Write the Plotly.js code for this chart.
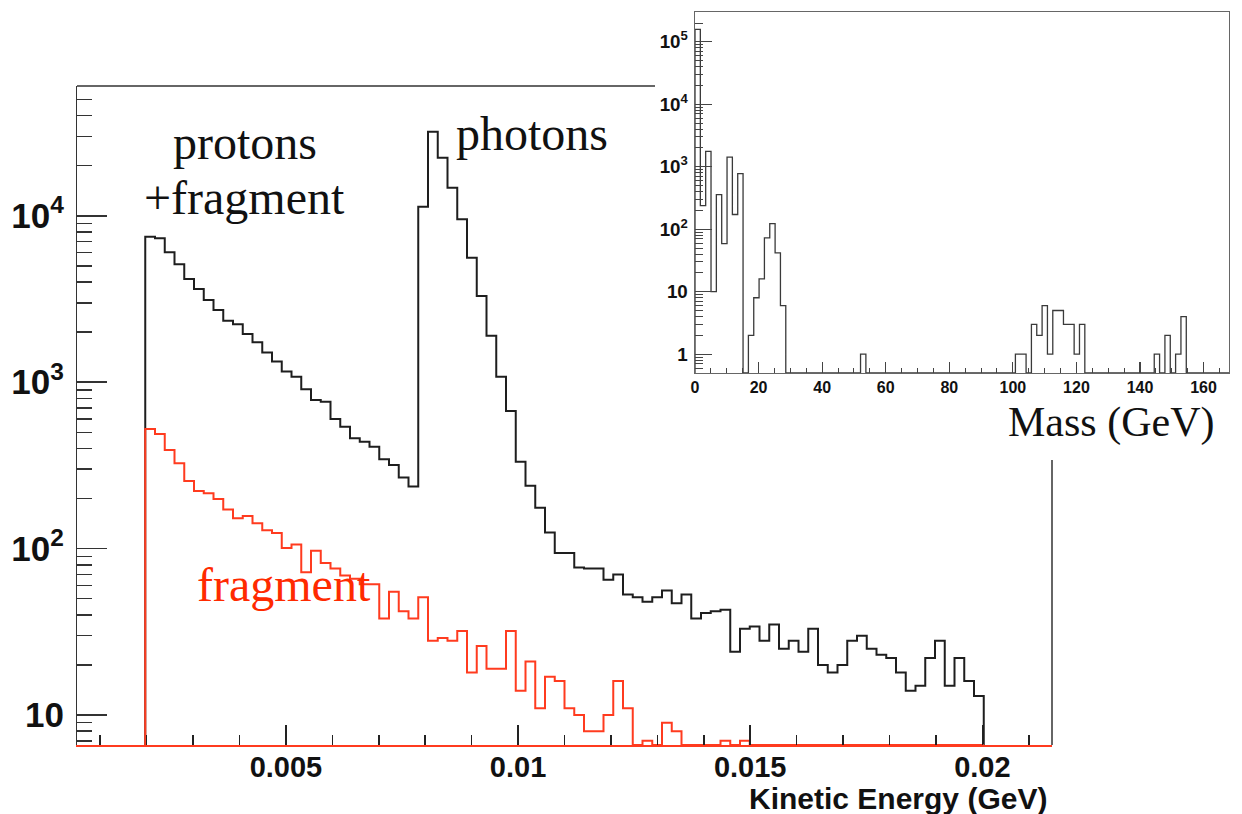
<!DOCTYPE html>
<html><head><meta charset="utf-8">
<script src="https://cdn.plot.ly/plotly-3.0.1.min.js"></script>
<style>html,body{margin:0;padding:0;background:#fff}#chart{width:1242px;height:814px}</style>
</head><body><div id="chart"></div>
<script>
// Kinetic energy histogram (GeV), 86 filled bins starting at 0.00197 GeV
const keBinStart = 0.00197;
const keBinWidth = 0.00021;
const totalCounts = [7480,7330,6040,5110,4170,3630,3120,2720,2340,2230,
  1950,1740,1510,1330,1160,1080,906,782,764,601,
  540,460,439,410,345,318,268,236,11350,32000,
  22350,14760,9530,5600,3300,1900,1080,671,333,239,
  176,125,94,94,77,76,76,65,70,53,
  51,48,51,56,47,53,38,41,42,43,
  24,33,34,28,35,25,28,24,33,20,
  18,20,28,30,25,23,22,18,14,15,
  22,28,15,22,16,13];
const fragmentCounts = [523,489,392,326,255,222,215,199,172,152,
  157,142,129,124,101,106,72,97,82,76,
  69,66,61,61,38,55,42,38,51,28,
  29,28,32,18,26,19,19,32,14,21,
  11,17,16,11,10,8,8,10,16,11,
  0,7,0,9,8,0,0,0,0,7,
  0,7,0,0,0,0,0,0,0,0,
  0,0,0,0,0,0,0,0,0,0,
  0,0,0,0,0,0];
const keTickVals = [0.005, 0.01, 0.015, 0.02];
const keTickText = ['0.005', '0.01', '0.015', '0.02'];

// Inset: mass histogram (GeV), 100 bins from 0 to 168
const massBinWidth = 1.68;
const massCounts = [158000,239,1757,10,357,59,1430,172,774,0,
  2,8,16,73,123,42,6,0,0,0,
  0,0,0,0,0,0,0,0,0,0,
  0,1,0,0,0,0,0,0,0,0,
  0,0,0,0,0,0,0,0,0,0,
  0,0,0,0,0,0,0,0,0,0,
  1,1,0,3,2,6,1,5,5,3,
  3,1,3,0,0,0,0,0,0,0,
  0,0,0,0,0,0,1,0,2,0,
  1,4,0,0,0,0,0,0,0,0];
const massTickVals = [0,20,40,60,80,100,120,140,160];

const mainYRange = [0.82, 4.78];
const insetYRange = [Math.log10(0.5), Math.log10(3e5)];

function stepXY(start, width, counts, floor) {
  const xs = [start], ys = [floor];
  counts.forEach((c, i) => { xs.push(start + i * width); ys.push(c > 0 ? c : floor); });
  const end = start + counts.length * width;
  const last = counts[counts.length - 1];
  xs.push(end); ys.push(last > 0 ? last : floor);
  xs.push(end); ys.push(floor);
  return {x: xs, y: ys};
}

const mainFloor = Math.pow(10, mainYRange[0]);
const insetFloor = Math.pow(10, insetYRange[0]);
const tot = stepXY(keBinStart, keBinWidth, totalCounts, mainFloor);
const frag = stepXY(keBinStart, keBinWidth, fragmentCounts, mainFloor);
const mass = stepXY(0, massBinWidth, massCounts, insetFloor);

const traces = [
  {x: tot.x, y: tot.y, type: 'scatter', mode: 'lines', line: {shape: 'hv', color: '#1e1e1e', width: 2}, name: 'protons+fragment', xaxis: 'x', yaxis: 'y', hoverinfo: 'skip'},
  {x: frag.x, y: frag.y, type: 'scatter', mode: 'lines', line: {shape: 'hv', color: '#ff3b1f', width: 2}, name: 'fragment', xaxis: 'x', yaxis: 'y', hoverinfo: 'skip'},
  {x: mass.x, y: mass.y, type: 'scatter', mode: 'lines', line: {shape: 'hv', color: '#3a3a3a', width: 1.3}, name: 'mass', xaxis: 'x2', yaxis: 'y2', hoverinfo: 'skip'}
];

const boldFont = (s) => ({family: 'Liberation Sans, Arial, sans-serif', size: s, weight: 'bold', color: '#111'});
const W = 1242, H = 814;

const layout = {
  width: W, height: H,
  margin: {l: 0, r: 0, t: 0, b: 0},
  paper_bgcolor: '#fff', plot_bgcolor: 'rgba(0,0,0,0)',
  showlegend: false,
  xaxis: {
    domain: [77 / W, 1052 / W], range: [0.0005, 0.0215], anchor: 'y',
    showline: true, linecolor: '#ff3b1f', linewidth: 2, mirror: false,
    showgrid: false, zeroline: false,
    ticks: 'inside', ticklen: 20, tickwidth: 1.5, tickcolor: '#222',
    tickmode: 'array', tickvals: keTickVals, ticktext: keTickText,
    tickfont: boldFont(29), ticklabelstandoff: -5,
    minor: {tickmode: 'linear', tick0: 0, dtick: 0.001, ticks: 'inside', ticklen: 10, tickwidth: 1.5, tickcolor: '#222', showgrid: false}
  },
  yaxis: {
    type: 'log', domain: [69 / H, 728 / H], range: mainYRange, anchor: 'x',
    showline: true, linecolor: '#333', linewidth: 1.5, mirror: false,
    showgrid: false, zeroline: false,
    ticks: 'inside', ticklen: 30, tickwidth: 1.5, tickcolor: '#333',
    tickmode: 'linear', tick0: 0, dtick: 1, exponentformat: 'power',
    tickfont: boldFont(28), ticklabelstandoff: 6,
    minor: {dtick: 'D1', ticks: 'inside', ticklen: 15, tickwidth: 1.5, tickcolor: '#333', showgrid: false}
  },
  xaxis2: {
    domain: [695 / W, 1229 / W], range: [0, 168], anchor: 'y2',
    showline: true, linecolor: '#666', linewidth: 1.2, mirror: true,
    showgrid: false, zeroline: false,
    ticks: 'inside', ticklen: 11, tickwidth: 1.2, tickcolor: '#444',
    tickmode: 'array', tickvals: massTickVals,
    tickfont: boldFont(16), ticklabelstandoff: 0,
    minor: {tickmode: 'linear', tick0: 0, dtick: 5, ticks: 'inside', ticklen: 5, tickwidth: 1, tickcolor: '#444', showgrid: false}
  },
  yaxis2: {
    type: 'log', domain: [(H - 373) / H, (H - 12) / H], range: insetYRange, anchor: 'x2',
    showline: true, linecolor: '#666', linewidth: 1.2, mirror: true,
    showgrid: false, zeroline: false,
    ticks: 'inside', ticklen: 17, tickwidth: 1.2, tickcolor: '#444',
    tickmode: 'linear', tick0: 0, dtick: 1, exponentformat: 'power',
    tickfont: boldFont(15), ticklabelstandoff: 3,
    minor: {dtick: 'D1', ticks: 'inside', ticklen: 8, tickwidth: 1, tickcolor: '#444', showgrid: false}
  },
  shapes: [
    {type: 'line', xref: 'x domain', yref: 'y domain', x0: 0, x1: (655 - 77) / 975, y0: 1, y1: 1, line: {color: '#333', width: 1.5}},
    {type: 'line', xref: 'x domain', yref: 'y domain', x0: 1, x1: 1, y0: 0, y1: (745 - 460) / 659, line: {color: '#333', width: 1.5}}
  ],
  annotations: [
    {text: 'protons', x: 245 / W, y: 1 - 143 / H, xref: 'paper', yref: 'paper', xanchor: 'center', yanchor: 'middle', showarrow: false, font: {family: 'Liberation Serif, Times New Roman, serif', size: 48, color: '#111'}},
    {text: '+fragment', x: 245 / W, y: 1 - 197 / H, xref: 'paper', yref: 'paper', xanchor: 'center', yanchor: 'middle', showarrow: false, font: {family: 'Liberation Serif, Times New Roman, serif', size: 48, color: '#111'}},
    {text: 'photons', x: 532 / W, y: 1 - 134 / H, xref: 'paper', yref: 'paper', xanchor: 'center', yanchor: 'middle', showarrow: false, font: {family: 'Liberation Serif, Times New Roman, serif', size: 48, color: '#111'}},
    {text: 'fragment', x: 284 / W, y: 1 - 584 / H, xref: 'paper', yref: 'paper', xanchor: 'center', yanchor: 'middle', showarrow: false, font: {family: 'Liberation Serif, Times New Roman, serif', size: 48, color: '#ff2a00'}},
    {text: 'Mass (GeV)', x: 1111 / W, y: 1 - 422 / H, xref: 'paper', yref: 'paper', xanchor: 'center', yanchor: 'middle', showarrow: false, font: {family: 'Liberation Serif, Times New Roman, serif', size: 42, color: '#111'}},
    {text: 'Kinetic Energy (GeV)', x: 1049 / W, y: 1 - 798 / H, xref: 'paper', yref: 'paper', xanchor: 'right', yanchor: 'middle', showarrow: false, font: boldFont(30)}
  ]
};

Plotly.newPlot('chart', traces, layout, {displayModeBar: false, staticPlot: true});
</script>
</body></html>
